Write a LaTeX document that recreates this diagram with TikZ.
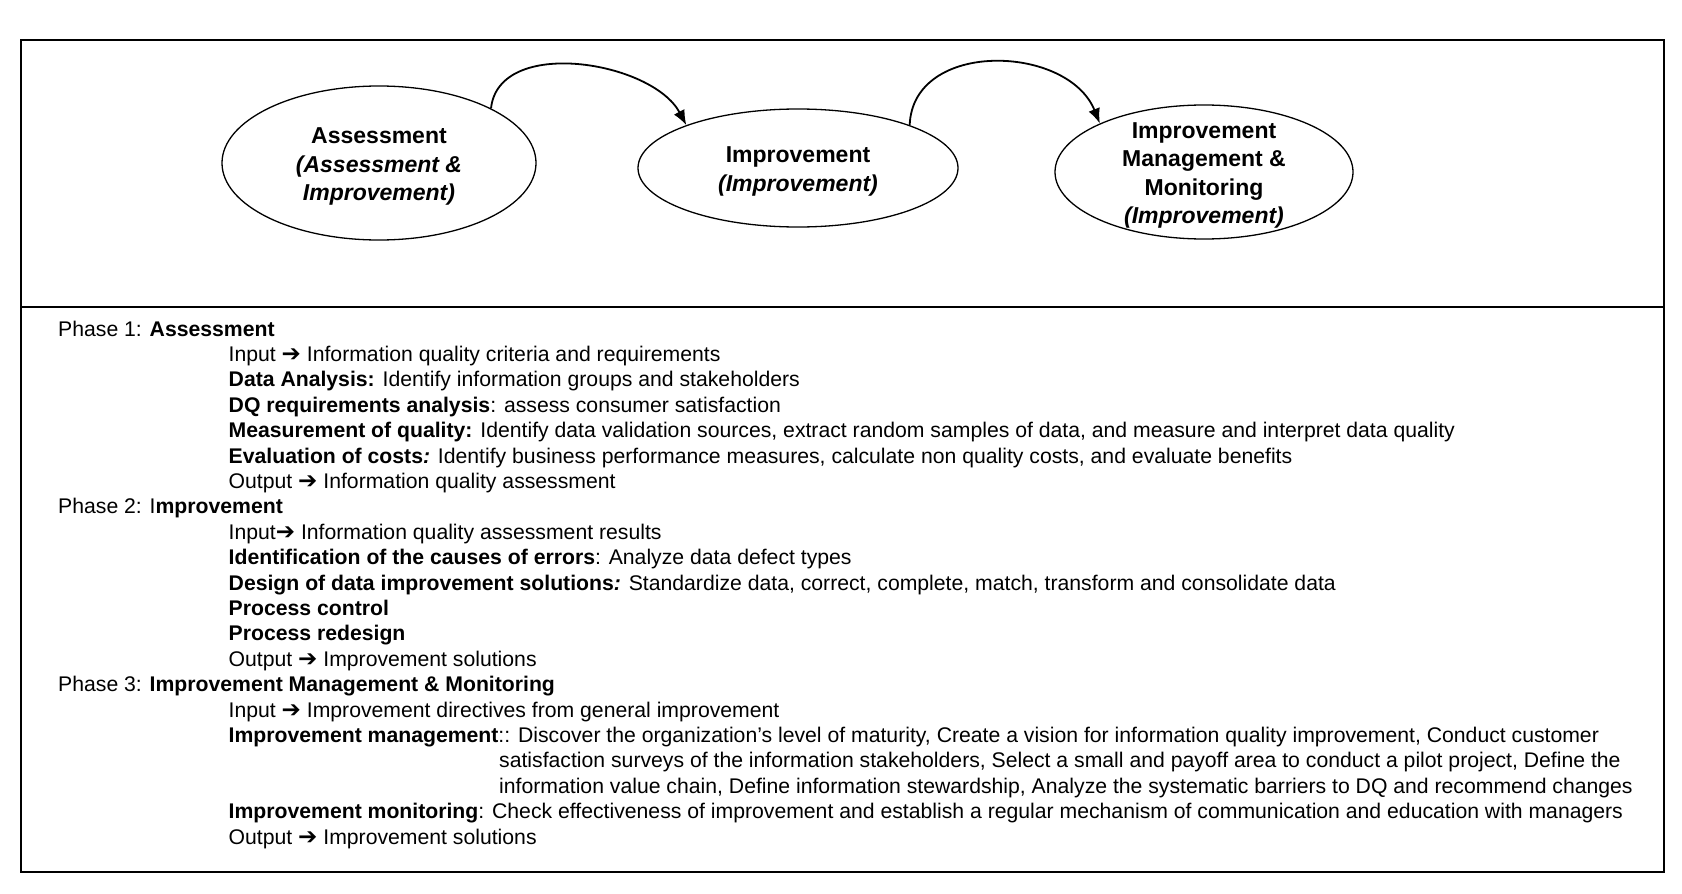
\documentclass[tikz,border=0pt]{standalone}
\usepackage{fontspec}
\setmainfont{Liberation Sans}
\newfontfamily\arrowfont{DejaVu Sans}
\newcommand\rarr{{\arrowfont\fontsize{23}{20}\selectfont ➔}}
\usetikzlibrary{shapes.geometric,arrows.meta}
\tikzset{
  phase/.style={ellipse,draw,line width=1.3pt,inner sep=0pt},
  phasetext/.style={align=center,inner sep=0pt,yshift=-3.5pt,font=\fontsize{23}{28.5}\selectfont\bfseries},
  flow/.style={line width=1.8pt,-{Latex[length=15pt,width=12pt]}},
  txt/.style={anchor=base west,inner sep=0pt,font=\fontsize{21.2}{25}\selectfont}
}
\begin{document}
\begin{tikzpicture}[x=1pt,y=1pt]
\useasboundingbox (0,0) rectangle (1682,-894);
\draw[line width=2pt] (21,-40) rectangle (1664,-872);
\draw[line width=1.8pt] (21,-307) -- (1664,-307);
\node[phase,minimum width=314pt,minimum height=154pt,
  label={[phasetext]center:{Assessment\\\textit{(Assessment \&}\\\textit{Improvement)}}}] (A) at (379,-163) {};
\node[phase,minimum width=320pt,minimum height=118pt,
  label={[phasetext]center:{Improvement\\\textit{(Improvement)}}}] (I) at (798,-168) {};
\node[phase,minimum width=298pt,minimum height=134pt,
  label={[phasetext]center:{Improvement\\Management \&\\Monitoring\\\textit{(Improvement)}}}] (M) at (1204,-172) {};
\draw[flow] (A.26) to[out=84,in=118,looseness=0.95] (I.159);
\draw[flow] (I.21) to[out=88,in=112,looseness=1.15] (M.155);
\def\L#1{-336-25.4*#1}
\node[txt] (p1) at (58,{\L{0}}) {Phase 1: \textbf{Assessment}};
\node[txt] (l1) at (228.5,{\L{1}}) {Input \rarr{} Information quality criteria and requirements};
\node[txt] (l2) at (228.5,{\L{2}}) {\textbf{Data Analysis:} Identify information groups and stakeholders};
\node[txt] (l3) at (228.5,{\L{3}}) {\textbf{DQ requirements analysis}: assess consumer satisfaction};
\node[txt] (l4) at (228.5,{\L{4}}) {\textbf{Measurement of quality:} Identify data validation sources, extract random samples of data, and measure and interpret data quality};
\node[txt] (l5) at (228.5,{\L{5}}) {\textbf{Evaluation of costs\textit{:}} Identify business performance measures, calculate non quality costs, and evaluate benefits};
\node[txt] (l6) at (228.5,{\L{6}}) {Output \rarr{} Information quality assessment};
\node[txt] (p2) at (58,{\L{7}}) {Phase 2: I\textbf{mprovement}};
\node[txt] (l8) at (228.5,{\L{8}}) {Input\rarr{} Information quality assessment results};
\node[txt] (l9) at (228.5,{\L{9}}) {\textbf{Identification of the causes of errors}: Analyze data defect types};
\node[txt] (l10) at (228.5,{\L{10}}) {\textbf{Design of data improvement solutions\textit{:}} Standardize data, correct, complete, match, transform and consolidate data};
\node[txt] (l11) at (228.5,{\L{11}}) {\textbf{Process control}};
\node[txt] (l12) at (228.5,{\L{12}}) {\textbf{Process redesign}};
\node[txt] (l13) at (228.5,{\L{13}}) {Output \rarr{} Improvement solutions};
\node[txt] (p3) at (58,{\L{14}}) {Phase 3: \textbf{Improvement Management \& Monitoring}};
\node[txt] (l15) at (228.5,{\L{15}}) {Input \rarr{} Improvement directives from general improvement};
\node[txt] (l16) at (228.5,{\L{16}}) {\textbf{Improvement management}:: Discover the organization’s level of maturity, Create a vision for information quality improvement, Conduct customer};
\node[txt] (l17) at (499,{\L{17}}) {satisfaction surveys of the information stakeholders, Select a small and payoff area to conduct a pilot project, Define the};
\node[txt] (l18) at (499,{\L{18}}) {information value chain, Define information stewardship, Analyze the systematic barriers to DQ and recommend changes};
\node[txt] (l19) at (228.5,{\L{19}}) {\textbf{Improvement monitoring}: Check effectiveness of improvement and establish a regular mechanism of communication and education with managers};
\node[txt] (l20) at (228.5,{\L{20}}) {Output \rarr{} Improvement solutions};
\end{tikzpicture}
\end{document}
